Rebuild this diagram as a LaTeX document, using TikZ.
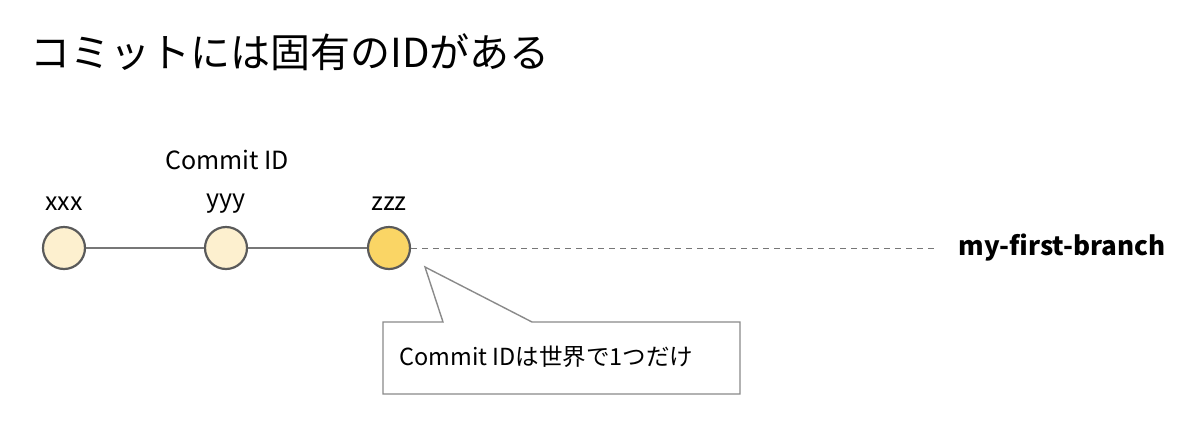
\documentclass[tikz,border=0pt]{standalone}
\usepackage{fontspec}
\setmainfont{Noto Sans CJK JP}
\usetikzlibrary{calc}
\definecolor{lightc}{HTML}{FDF0CF}
\definecolor{headc}{HTML}{FAD565}
\definecolor{rimc}{HTML}{5A5A5A}
\definecolor{linec}{HTML}{777777}
\definecolor{boxc}{HTML}{8A8A8A}
\tikzset{
  commit/.style={circle, draw=rimc, line width=2.2pt, minimum size=42pt, inner sep=0pt},
  lbl/.style={font=\fontsize{25}{28}\selectfont, text=black},
}
\begin{document}
\begin{tikzpicture}[x=1pt,y=-1pt]
\path[use as bounding box, fill=white] (0,0) rectangle (1200,424);
\node[anchor=west, font=\fontsize{40}{46}\selectfont] (title) at (27,52) {コミットには固有のIDがある};
\node[commit, fill=lightc] (c1) at (64,248) {};
\node[commit, fill=lightc] (c2) at (226,248) {};
\node[commit, fill=headc] (c3) at (389,248) {};
\draw[linec, line width=1.4pt] (c1) -- (c2);
\draw[linec, line width=1.4pt] (c2) -- (c3);
\node[lbl] (l1) at (64,204) {xxx};
\node[lbl] (l2) at (226,204) {yyy};
\node[lbl] (l3) at (389,204) {zzz};
\node[lbl] (cid) at (227,160) {Commit ID};
\node[anchor=west, font=\fontsize{26}{29}\selectfont\bfseries] (br) at (955,248) {my-first-branch};
\coordinate (dend) at (935,248);
\draw[linec, line width=1pt, dash pattern=on 6pt off 5pt] (c3) -- (dend);
\coordinate (tip) at (425,267);
\draw[boxc, line width=1.4pt, fill=white] (443,322) -- (tip) -- (532,322) -- (740,322) -- (740,394) -- (383,394) -- (383,322) -- cycle;
\node[anchor=west, font=\fontsize{23.5}{27}\selectfont] (note) at (396,357) {Commit IDは世界で1つだけ};
\end{tikzpicture}
\end{document}
